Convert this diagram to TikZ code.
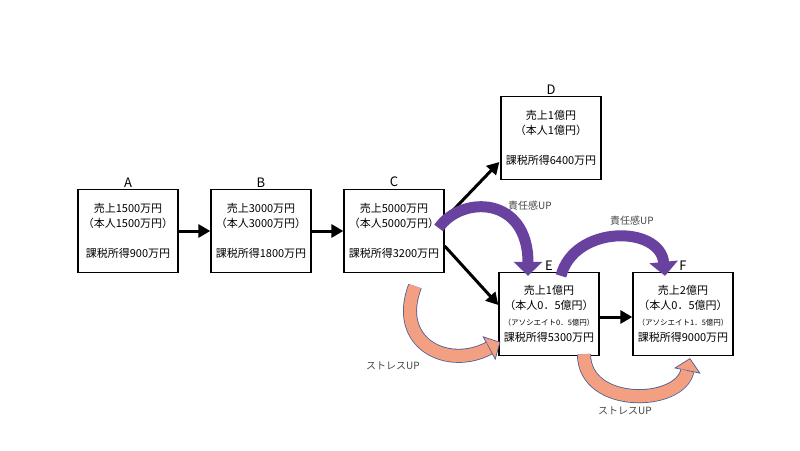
\documentclass[tikz,border=0pt]{standalone}
\usepackage{fontspec}
\setmainfont{Noto Sans CJK JP}
\usetikzlibrary{positioning,calc,arrows.meta}
\definecolor{dutyc}{RGB}{104,66,158}
\definecolor{stressc}{RGB}{243,160,130}
\definecolor{stressedge}{RGB}{72,92,150}
\definecolor{notec}{RGB}{70,70,70}

\begin{document}
\begin{tikzpicture}[x=1pt,y=1pt,yscale=-1,
  stage/.style={draw,line width=1.3pt,minimum width=100pt,minimum height=83pt,inner sep=0pt,align=center,font=\fontsize{11}{15}\selectfont},
  tag/.style={inner sep=1.5pt,font=\fontsize{13}{13}\selectfont},
  note/.style={text=notec,font=\fontsize{10}{10}\selectfont},
  flow/.style={line width=3pt,-{Triangle[length=12pt,width=13pt]}},
  duty/.style={draw=dutyc,line width=11pt,-{Triangle[length=14pt,width=28pt]}},
  stressup/.style={draw=stressedge,line width=14pt,-{Triangle[length=13pt,width=27pt,fill=stressc,line width=0.7pt]},
    postaction={draw=stressc,line width=12.4pt,shorten >=13pt,-}}]
\useasboundingbox (0,0) rectangle (800,450);

%Shape: Rectangle
\node[stage] (A) at (128,231) {売上1500万円\\（本人1500万円）\\[15pt]課税所得900万円};
\node[stage] (B) at (261,231) {売上3000万円\\（本人3000万円）\\[15pt]課税所得1800万円};
\node[stage] (C) at (394,231) {売上5000万円\\（本人5000万円）\\[15pt]課税所得3200万円};
\node[stage] (D) at (551,138) {売上1億円\\（本人1億円）\\[15pt]課税所得6400万円};
\node[stage] (E) at (549,314) {売上1億円\\（本人0．5億円）\\[1pt]{\fontsize{7.5}{9}\selectfont （アソシエイト0．5億円）}\\[1pt]課税所得5300万円};
\node[stage] (F) at (683,314) {売上2億円\\（本人0．5億円）\\[1pt]{\fontsize{7.5}{9}\selectfont （アソシエイト1．5億円）}\\[1pt]課税所得9000万円};

% Text Node
\node[tag,above=0pt of A] (lA) {A};
\node[tag,above=0pt of B] (lB) {B};
\node[tag,above=0pt of C] (lC) {C};
\node[tag,above=0pt of D] (lD) {D};
\node[tag,above=0pt of E] (lE) {E};
\node[tag,above=0pt of F] (lF) {F};

%Straight Lines
\draw[flow] (A.east) -- (B.west);
\draw[flow] (B.east) -- (C.west);
\draw[flow] ($(C.east)+(0,-12)$) -- ($(D.west)+(-1,24)$);
\draw[flow] ($(C.east)+(0,15)$) -- ($(E.west)+(0,-9)$);
\draw[flow] ($(E.east)+(0,3)$) -- ($(F.west)+(0,3)$);

%Curved Arrows
\draw[duty] ($(C.east)+(-6,-3)$) .. controls +(23,-33) and +(0,-80) .. ($(E.north)+(-21,4)$);
\draw[duty] ($(E.north)+(12,4)$) .. controls +(13,-51) and +(-5,-51) .. ($(F.north)+(-18,4)$);
\draw[stressup] ($(C.south)+(21,13)$) .. controls +(-22,58) and +(-52,28) .. ($(E.west)+(2,28)$);
\draw[stressup] ($(E.south)+(35,-2)$) .. controls +(0,54) and +(-10,48) .. ($(F.south)+(7,2)$);

% Text Node
\node[note] (n1) at (530,206) {責任感UP};
\node[note] (n2) at (632,221) {責任感UP};
\node[note] (n3) at (393,366) {ストレスUP};
\node[note] (n4) at (625,411) {ストレスUP};

\end{tikzpicture}
\end{document}
